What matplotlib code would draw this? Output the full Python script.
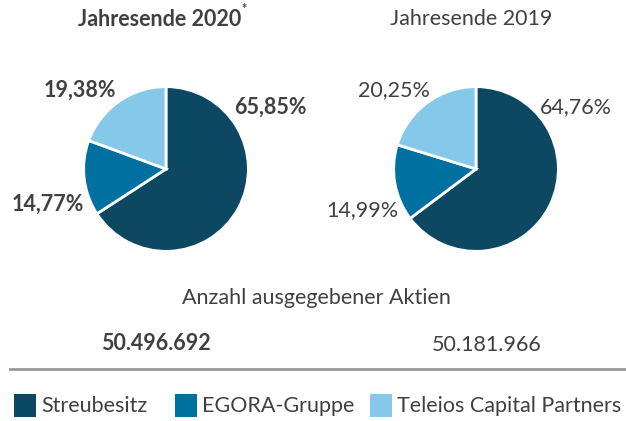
import matplotlib
matplotlib.use("Agg")
import matplotlib.pyplot as plt
from matplotlib.patches import Rectangle

plt.rcParams['font.family'] = ['Lato', 'DejaVu Sans']

categories = ["Streubesitz", "EGORA-Gruppe", "Teleios Capital Partners"]
colors = ["#0c4862", "#0070a0", "#86c8ea"]
values_2020 = [65.85, 14.77, 19.38]
values_2019 = [64.76, 14.99, 20.25]
labels_2020 = ["65,85%", "14,77%", "19,38%"]
labels_2019 = ["64,76%", "14,99%", "20,25%"]
shares_2020 = "50.496.692"
shares_2019 = "50.181.966"

W, H = 626, 421
fig = plt.figure(figsize=(W / 100, H / 100), dpi=100)
TXT = "#404040"

def px(x, y):
    return x / W, 1 - y / H

def pie_axes(cx, cy, r):
    ax = fig.add_axes([(cx - r) / W, (H - cy - r) / H, 2 * r / W, 2 * r / H])
    return ax

for vals, cx in [(values_2020, 166), (values_2019, 476)]:
    ax = pie_axes(cx, 169, 84)
    ax.pie(vals, colors=colors, startangle=90, counterclock=False, radius=1,
           wedgeprops=dict(edgecolor="white", linewidth=2))
    ax.set_xlim(-1.02, 1.02)
    ax.set_ylim(-1.02, 1.02)
    ax.set_aspect("equal")
    ax.axis("off")

# Titles
fig.text(*px(160, 19), "Jahresende 2020", ha="center", va="center",
         fontsize=15.5, fontweight="bold", color=TXT)
fig.text(*px(244, 9), "*", ha="center", va="center", fontsize=9,
         fontweight="bold", color=TXT)
fig.text(*px(471, 19), "Jahresende 2019", ha="center", va="center",
         fontsize=15.5, color=TXT)

# Percent labels
pos_2020 = [(270, 107), (48, 204), (80, 90)]
pos_2019 = [(576, 107), (362, 210), (394, 90)]
for lab, (x, y) in zip(labels_2020, pos_2020):
    fig.text(*px(x, y), lab, ha="center", va="center", fontsize=15.5,
             fontweight="bold", color=TXT)
for lab, (x, y) in zip(labels_2019, pos_2019):
    fig.text(*px(x, y), lab, ha="center", va="center", fontsize=15.5, color=TXT)

# Shares
fig.text(*px(316, 298), "Anzahl ausgegebener Aktien", ha="center", va="center",
         fontsize=15.5, color=TXT)
fig.text(*px(156, 344), shares_2020, ha="center", va="center", fontsize=15.5,
         fontweight="bold", color=TXT)
fig.text(*px(487, 345), shares_2019, ha="center", va="center", fontsize=15.5,
         color=TXT)

# Rule line
fig.add_artist(plt.Line2D([10 / W, 1.0], [1 - 369 / H] * 2, color="#999999",
                          linewidth=2, transform=fig.transFigure))

# Legend
leg_x = [14, 175, 370]
for (x, name, col) in zip(leg_x, categories, colors):
    fig.add_artist(Rectangle(((x) / W, 1 - 417 / H), 22 / W, 23 / H,
                             facecolor=col, edgecolor="none",
                             transform=fig.transFigure))
    fig.text(*px(x + 27, 406), name, ha="left", va="center", fontsize=15.5,
             color=TXT)

fig.savefig("out.png", dpi=100, facecolor="white")
